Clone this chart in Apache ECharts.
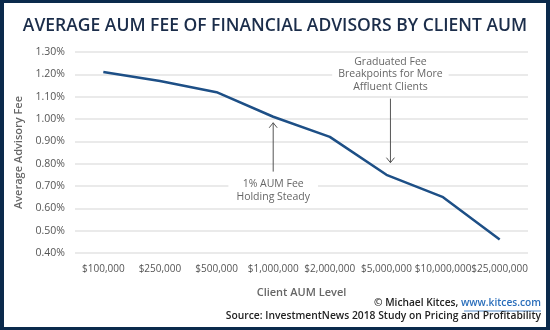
<!DOCTYPE html>
<html><head><meta charset="utf-8">
<script src="https://cdn.jsdelivr.net/npm/echarts@6/dist/echarts.min.js"></script>
<style>html,body{margin:0;padding:0;background:#fff}#c{width:550px;height:330px}</style>
</head><body><div id="c"></div>
<script>
const categories = ['$100,000','$250,000','$500,000','$1,000,000','$2,000,000','$5,000,000','$10,000,000','$25,000,000'];
const feeValues = [1.21, 1.17, 1.12, 1.01, 0.92, 0.75, 0.65, 0.46];
const yTicks = [0.4,0.5,0.6,0.7,0.8,0.9,1.0,1.1,1.2,1.3];
const annotationTop = ['Graduated Fee','Breakpoints for More','Affluent Clients'];
const annotationBottom = ['1% AUM Fee','Holding Steady'];

const FONT = 'Open Sans';
const chart = echarts.init(document.getElementById('c'), null, {renderer:'canvas'});
const option = {
  animation:false,
  backgroundColor:'#fff',
  title:{
    text:'AVERAGE AUM FEE OF FINANCIAL ADVISORS BY CLIENT AUM',
    left:'center', top:12,
    textStyle:{fontFamily:FONT, fontSize:17.5, fontWeight:600, color:'#1b2d4a'}
  },
  grid:{left:75, right:22, top:52, bottom:77},
  xAxis:{
    type:'category', data:categories, boundaryGap:true,
    axisLine:{show:false}, axisTick:{show:false},
    axisLabel:{fontFamily:FONT, fontSize:10, color:'#555', margin:11, interval:0},
    name:'Client AUM Level', nameLocation:'middle', nameGap:34,
    nameTextStyle:{fontFamily:FONT, fontSize:11, fontWeight:600, color:'#666'}
  },
  yAxis:{
    type:'value', min:yTicks[0], max:yTicks[yTicks.length-1], interval:0.1,
    axisLine:{show:false}, axisTick:{show:false},
    splitLine:{lineStyle:{color:'#e3e3e3', width:1.5}},
    axisLabel:{fontFamily:FONT, fontSize:10.5, color:'#555', margin:10,
      formatter:v=>v.toFixed(2)+'%'},
    name:'Average Advisory Fee', nameLocation:'middle', nameGap:45, nameRotate:90,
    nameTextStyle:{fontFamily:FONT, fontSize:11, fontWeight:600, color:'#666'}
  },
  series:[{
    type:'line', data:feeValues, symbol:'none',
    lineStyle:{color:'#1d4f86', width:2.5}
  }]
};
chart.setOption(option);

function px(i,v){return chart.convertToPixel({seriesIndex:0},[i,v]);}
const g = [];
const nav = '#0b2a4c';
g.push({type:'rect',shape:{x:0,y:0,width:550,height:3},style:{fill:nav},z:100});
g.push({type:'rect',shape:{x:0,y:327,width:550,height:3},style:{fill:nav},z:100});
g.push({type:'rect',shape:{x:0,y:0,width:4,height:330},style:{fill:nav},z:100});
g.push({type:'rect',shape:{x:546,y:0,width:4,height:330},style:{fill:nav},z:100});

function arrow(x,y1,y2){
  const d = y2>y1?-1:1;
  g.push({type:'line',shape:{x1:x,y1:y1,x2:x,y2:y2},style:{stroke:'#555',lineWidth:1},z:50});
  g.push({type:'polyline',shape:{points:[[x-4,y2+d*5],[x,y2],[x+4,y2+d*5]]},style:{stroke:'#555',lineWidth:1,fill:null},z:50});
}
const p5 = px(5, 0.75);
const ax1 = p5[0]+4;
const tTop = px(5,1.305)[1];
g.push({type:'text',x:ax1,y:tTop+5,style:{text:annotationTop.join('\n'),fontFamily:FONT,fontSize:10.5,lineHeight:12.3,fill:'#666',align:'center',verticalAlign:'top',backgroundColor:'#fff',padding:[0,6]},z:40});
arrow(ax1, px(5,1.1)[1]+2, px(5,0.80)[1]-1);
const p3 = px(3, 1.01);
const ax2 = p3[0];
arrow(ax2, px(3,0.76)[1]-1, px(3,1.01)[1]+6);
g.push({type:'text',x:ax2,y:px(3,0.735)[1],style:{text:annotationBottom.join('\n'),fontFamily:FONT,fontSize:10.5,lineHeight:12.3,fill:'#666',align:'center',verticalAlign:'top',backgroundColor:'#fff',padding:[0,8]},z:40});
g.push({type:'text',right:9,top:298,style:{rich:{a:{fontFamily:FONT,fontSize:10.2,fill:'#222',fontWeight:600},b:{fontFamily:FONT,fontSize:10.2,fill:'#2a6ebb',fontWeight:600}},text:'{a|© Michael Kitces, }{b|www.kitces.com}'},z:60});
g.push({type:'line',shape:{x1:464,y1:311,x2:541,y2:311},style:{stroke:'#2a6ebb',lineWidth:0.8},z:60});
g.push({type:'text',right:9,top:311,style:{text:'Source: InvestmentNews 2018 Study on Pricing and Profitability',fontFamily:FONT,fontSize:10.3,fontWeight:600,fill:'#222'},z:60});
chart.setOption({graphic:g});
</script></body></html>
